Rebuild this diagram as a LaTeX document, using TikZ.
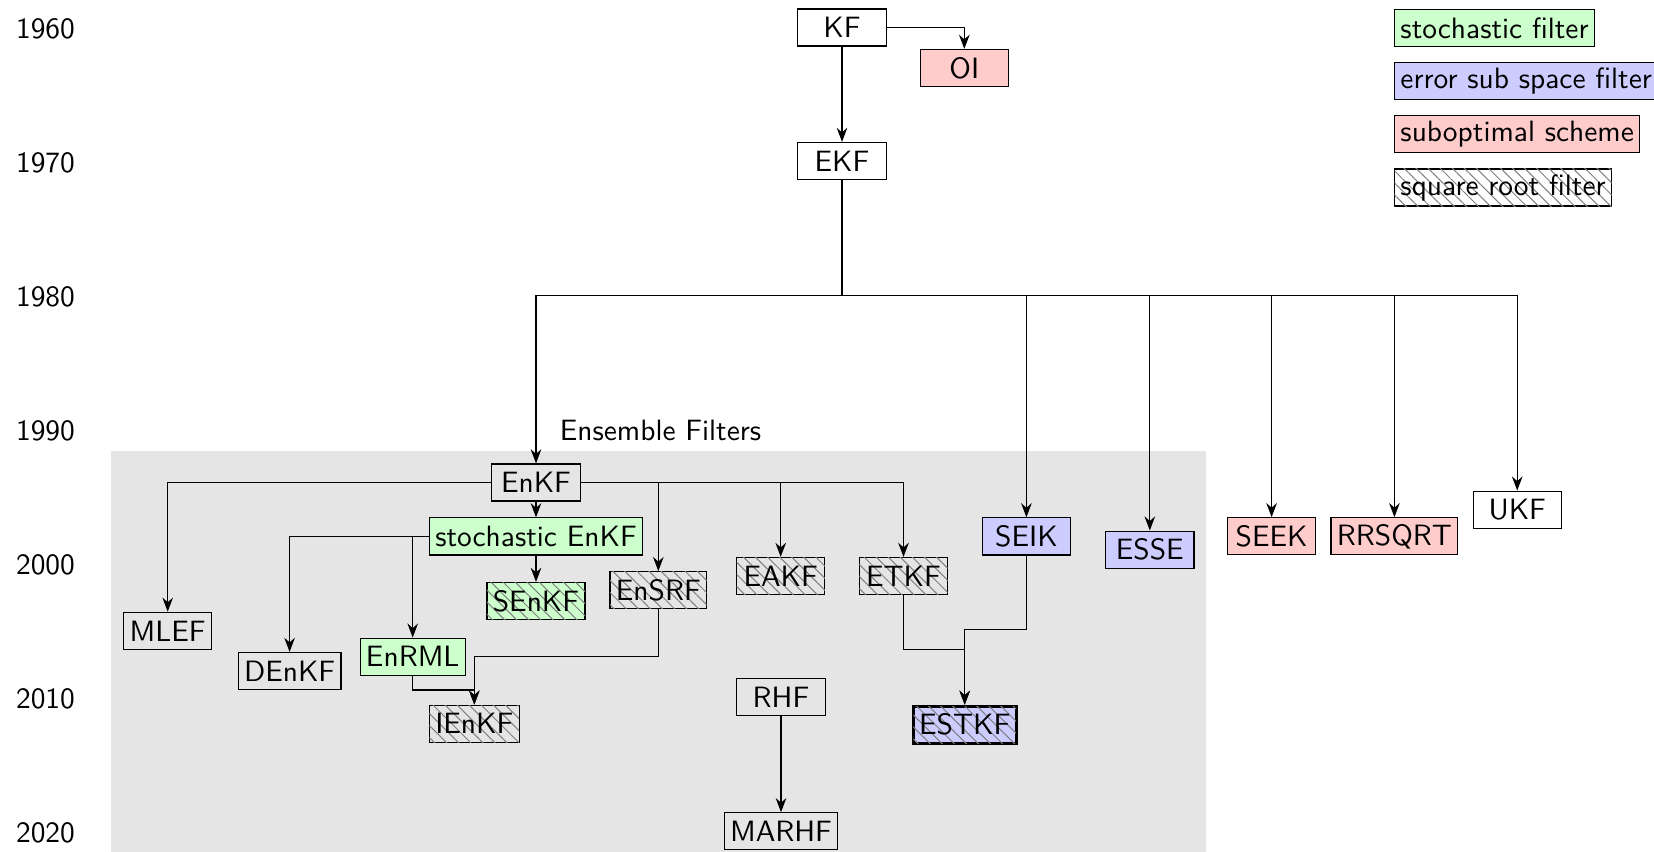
\documentclass[tikz,border=0pt]{standalone}
\usetikzlibrary{arrows.meta,patterns.meta}
\begin{document}
\begin{tikzpicture}[x=0.34pt,y=-0.34pt,font=\sffamily,
  box/.style={draw,inner xsep=2pt,inner ysep=1.5pt,minimum width=30pt,minimum height=12.6pt},
  stoch/.style={box,fill=green!20},
  subsp/.style={box,fill=blue!20},
  subopt/.style={box,fill=red!20},
  hatched/.style={postaction={pattern={Lines[angle=-45,distance=2.9pt,line width=0.35pt]},pattern color=black!50}},
  legendbox/.style={draw,inner xsep=2pt,inner ysep=1.5pt,minimum height=12.6pt,anchor=west},
  arr/.style={-{Stealth}},
  yearlabel/.style={inner sep=0pt}]
\useasboundingbox (0,0) rectangle (1654,851);
% background of the ensemble filters
\fill[black!10] (111,451) rectangle (1206,870);
% years
\node[yearlabel] (y1960) at (45.5,28.5) {1960};
\node[yearlabel] (y1970) at (45.5,162.5) {1970};
\node[yearlabel] (y1980) at (45.5,296.5) {1980};
\node[yearlabel] (y1990) at (45.5,430.5) {1990};
\node[yearlabel] (y2000) at (45.5,564.5) {2000};
\node[yearlabel] (y2010) at (45.5,698.5) {2010};
\node[yearlabel] (y2020) at (45.5,832.5) {2020};
% label
\node[anchor=base west,inner sep=0pt] (ens) at (559.3,440) {Ensemble Filters};
% nodes
\node[box] (KF) at (842,27.5) {KF};
\node[subopt] (OI) at (964.3,68) {OI};
\node[box] (EKF) at (842,161) {EKF};
\node[box] (EnKF) at (536,482.5) {EnKF};
\node[stoch] (stEnKF) at (536,536.4) {stochastic EnKF};
\node[stoch,hatched] (SEnKF) at (536,601) {SEnKF};
\node[box] (MLEF) at (167.7,630.8) {MLEF};
\node[box] (DEnKF) at (289.6,671) {DEnKF};
\node[stoch] (EnRML) at (412.7,656.7) {EnRML};
\node[box,hatched] (IEnKF) at (474.3,723.7) {IEnKF};
\node[box,hatched] (EnSRF) at (658.3,590.2) {EnSRF};
\node[box,hatched] (EAKF) at (780.7,576) {EAKF};
\node[box,hatched] (ETKF) at (903.5,576) {ETKF};
\node[subsp] (SEIK) at (1026.4,536.4) {SEIK};
\node[subsp] (ESSE) at (1149.8,549.6) {ESSE};
\node[subopt] (SEEK) at (1271.6,536.3) {SEEK};
\node[subopt] (RRSQRT) at (1394.4,536.3) {RRSQRT};
\node[box] (UKF) at (1517.2,509.7) {UKF};
\node[box] (RHF) at (781,697.3) {RHF};
\node[box] (MARHF) at (781,831.3) {MARHF};
\node[subsp,hatched,line width=1pt] (ESTKF) at (964.7,724.7) {ESTKF};
% legend
\node[legendbox,fill=green!20] (lg1) at (1394,28.3) {stochastic filter};
\node[legendbox,fill=blue!20] (lg2) at (1394,81.3) {error sub space filter};
\node[legendbox,fill=red!20] (lg3) at (1394,134) {suboptimal scheme};
\node[legendbox,hatched] (lg4) at (1394,187.5) {square root filter};
% connectors
\coordinate (j) at (842,295.5);
\draw[arr] (KF) -| (OI);
\draw[arr] (KF) -- (EKF);
\draw[arr] (EKF) -- (j) -| (EnKF);
\draw[arr] (EKF) -- (j) -| (SEIK);
\draw[arr] (EKF) -- (j) -| (ESSE);
\draw[arr] (EKF) -- (j) -| (SEEK);
\draw[arr] (EKF) -- (j) -| (RRSQRT);
\draw[arr] (EKF) -- (j) -| (UKF);
\draw[arr] (EnKF) -| (MLEF);
\draw[arr] (EnKF) -- (stEnKF);
\draw[arr] (EnKF) -| (EnSRF);
\draw[arr] (EnKF) -| (EAKF);
\draw[arr] (EnKF) -| (ETKF);
\draw[arr] (stEnKF) -| (DEnKF);
\draw[arr] (stEnKF) -| (EnRML);
\draw[arr] (stEnKF) -- (SEnKF);
\draw[arr] (EnRML) -- ++(0,33.3) -| (IEnKF);
\draw[arr] (EnSRF) -- ++(0,66.5) -| (IEnKF);
\draw[arr] (ETKF) -- ++(0,73.8) -| (ESTKF);
\draw[arr] (SEIK) -- ++(0,93.4) -| (ESTKF);
\draw[arr] (RHF) -- (MARHF);
\end{tikzpicture}
\end{document}
